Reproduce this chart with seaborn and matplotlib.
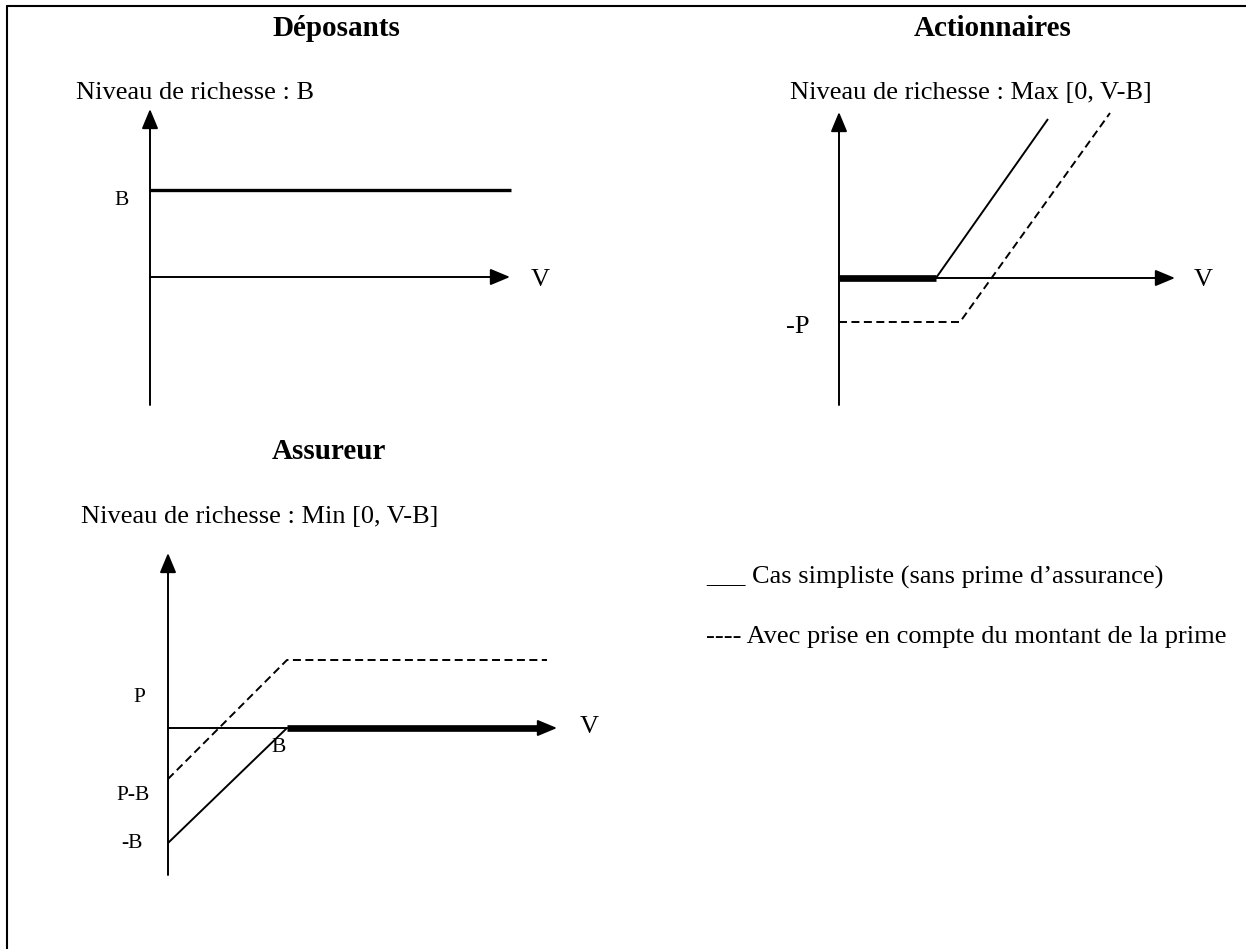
import matplotlib
matplotlib.use("Agg")
import matplotlib.pyplot as plt
import seaborn as sns
from matplotlib.lines import Line2D

W, H = 1246, 949

sns.set_theme(style="white")
plt.rcParams["font.family"] = ["Liberation Serif", "DejaVu Serif"]
plt.rcParams["text.color"] = "black"

# ---------------- data (1 unit = 10 px, origin at the crossing of the axes) ----------------
# Déposants : niveau de richesse B
dep_v = [0.0, 36.1]
dep_w = [8.7, 8.7]
dep_yaxis = [-12.8, 16.8]
dep_xaxis = [0.0, 36.0]

# Actionnaires : Max[0, V-B]
act_flat_v = [0.0, 9.7]
act_flat_w = [0.0, 0.0]
act_rise_v = [9.7, 20.9]
act_rise_w = [0.0, 15.9]
act_prime_v = [0.0, 12.1, 27.1]
act_prime_w = [-4.4, -4.4, 16.5]
act_yaxis = [-12.7, 16.6]
act_xaxis = [0.0, 33.6]

# Assureur : Min[0, V-B]
ass_rise_v = [0.0, 11.9]
ass_rise_w = [-11.5, 0.0]
ass_flat_v = [11.9, 37.4]
ass_flat_w = [0.0, 0.0]
ass_prime_v = [0.0, 11.9, 37.9]
ass_prime_w = [-5.1, 6.8, 6.8]
ass_yaxis = [-14.7, 17.5]
ass_xaxis = [0.0, 38.9]

titles = ["Déposants", "Actionnaires", "Assureur"]
ylabels = ["Niveau de richesse : B",
           "Niveau de richesse : Max [0, V-B]",
           "Niveau de richesse : Min [0, V-B]"]
legend_texts = ["___ Cas simpliste (sans prime d\u2019assurance)",
                "---- Avec prise en compte du montant de la prime"]

# ---------------- figure ----------------
fig = plt.figure(figsize=(W / 100, H / 100), dpi=100)
fig.patch.set_facecolor("white")


def fpos(x, y):
    return x / W, 1 - y / H


def panel(origin, left, top, right, bottom):
    ox, oy = origin
    ax = fig.add_axes([left / W, 1 - bottom / H, (right - left) / W, (bottom - top) / H])
    ax.set_xlim((left - ox) / 10, (right - ox) / 10)
    ax.set_ylim((oy - bottom) / 10, (oy - top) / 10)
    ax.axis("off")
    return ax


def arrow(ax, p0, p1, lw=1.4):
    ax.annotate("", xy=p1, xytext=p0, annotation_clip=False,
                arrowprops=dict(arrowstyle="-|>,head_length=0.6,head_width=0.25",
                                mutation_scale=20, lw=lw, color="black",
                                shrinkA=0, shrinkB=0))


def line(ax, x, y, lw=1.4, dashed=False):
    kw = dict(color="black", lw=lw, estimator=None, sort=False, ax=ax,
              solid_capstyle="butt", dash_capstyle="butt")
    if dashed:
        kw["linestyle"] = (0, (4.1, 2.3))
    sns.lineplot(x=x, y=y, **kw)
    for l in ax.lines:
        l.set_clip_on(False)


AX_LW = 1.4
LBL = 15.5
BIG = 19
TITLE = 21

# ---- Déposants ----
ax1 = panel((150, 277), 20, 20, 620, 420)
arrow(ax1, (0, dep_yaxis[0]), (0, dep_yaxis[1]), AX_LW)
arrow(ax1, (dep_xaxis[0], 0), (dep_xaxis[1], 0), AX_LW)
line(ax1, dep_v, dep_w, lw=2.4)
ax1.text(-2.8, 7.6, "B", fontsize=LBL, ha="center", va="center")
ax1.text(39.0, -0.3, "V", fontsize=BIG, ha="center", va="center")

# ---- Actionnaires ----
ax2 = panel((839, 278), 640, 20, 1240, 420)
arrow(ax2, (0, act_yaxis[0]), (0, act_yaxis[1]), AX_LW)
arrow(ax2, (act_xaxis[0], 0), (act_xaxis[1], 0), AX_LW)
line(ax2, act_flat_v, act_flat_w, lw=4.8)
line(ax2, act_rise_v, act_rise_w, lw=1.4)
line(ax2, act_prime_v, act_prime_w, lw=1.4, dashed=True)
ax2.text(-4.1, -4.9, "-P", fontsize=BIG, ha="center", va="center")
ax2.text(36.4, -0.2, "V", fontsize=BIG, ha="center", va="center")

# ---- Assureur ----
ax3 = panel((168, 728), 20, 430, 620, 940)
arrow(ax3, (0, ass_yaxis[0]), (0, ass_yaxis[1]), AX_LW)
arrow(ax3, (ass_xaxis[0], 0), (ass_xaxis[1], 0), AX_LW)
line(ax3, ass_flat_v, ass_flat_w, lw=4.8)
line(ax3, ass_rise_v, ass_rise_w, lw=1.4)
line(ax3, ass_prime_v, ass_prime_w, lw=1.4, dashed=True)
ax3.text(-2.9, 3.0, "P", fontsize=LBL, ha="center", va="center")
ax3.text(-3.5, -6.8, "P-B", fontsize=LBL, ha="center", va="center")
ax3.text(-3.6, -11.5, "-B", fontsize=LBL, ha="center", va="center")
ax3.text(11.1, -1.9, "B", fontsize=LBL, ha="center", va="center")
ax3.text(42.1, 0.1, "V", fontsize=BIG, ha="center", va="center")

# ---- titles and axis captions ----
for t, (x, y) in zip(titles, [(336, 28), (993, 28), (329, 452)]):
    fig.text(*fpos(x, y), t, fontsize=TITLE, fontweight="bold", ha="center", va="center")
for t, (x, y) in zip(ylabels, [(76, 93), (790, 93), (81, 517)]):
    fig.text(*fpos(x, y), t, fontsize=BIG, ha="left", va="center")

# ---- legend (text) ----
for t, y in zip(legend_texts, [577, 637]):
    fig.text(*fpos(706, y), t, fontsize=BIG, ha="left", va="center")

# ---- page frame (top and left edges) ----
fig.add_artist(Line2D([7 / W, 1], [1 - 6 / H, 1 - 6 / H], color="black", lw=1.5,
                      transform=fig.transFigure))
fig.add_artist(Line2D([7 / W, 7 / W], [0, 1 - 6 / H], color="black", lw=1.5,
                      transform=fig.transFigure))

fig.savefig("out.png", dpi=100, facecolor="white")
